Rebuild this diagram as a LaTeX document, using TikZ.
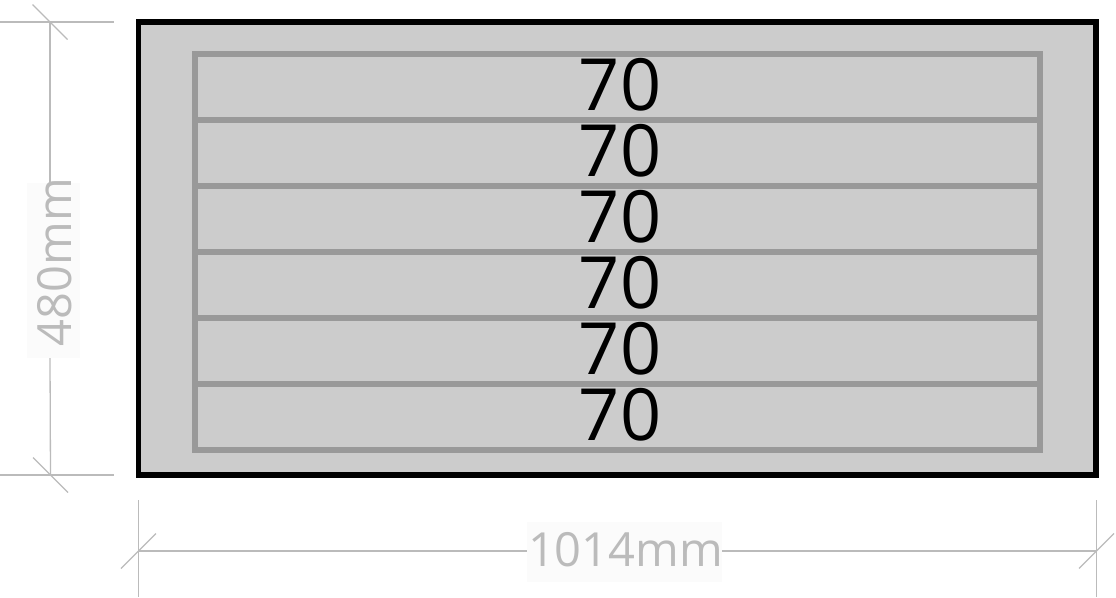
\documentclass[tikz,border=0pt]{standalone}
\usepackage{fontspec}
\usetikzlibrary{calc}
\newfontfamily\dimfont{Open Sans}
\definecolor{dimgray}{HTML}{BBBBBB}
\definecolor{stripfill}{HTML}{CCCCCC}
\definecolor{stripline}{HTML}{999999}
\definecolor{labelbg}{HTML}{FBFBFB}
\begin{document}
\begin{tikzpicture}[x=1pt,y=-1pt,
  dimline/.style={draw=dimgray,line width=1.3pt},
  outerbox/.style={draw=black,fill=stripfill,line width=5.5pt},
  stripbox/.style={draw=stripline,line width=6pt},
  striptext/.style={anchor=base,inner sep=0pt,font=\dimfont\fontsize{72}{72}\selectfont},
  dimtext/.style={anchor=base,inner sep=0pt,text=dimgray,font=\dimfont\fontsize{47}{47}\selectfont},
  labelback/.style={fill=labelbg,draw=none}]
\useasboundingbox (0,0) rectangle (1116,597);
% outer panel
\draw[outerbox] (138.5,22) rectangle (1096,475);
% strips
\foreach \i in {0,...,5}{
  \draw[stripbox] (195,{53.7+66*\i}) rectangle (1040,{119.7+66*\i});
  \node[striptext] (s\i) at (620,{110.7+66*\i}) {70};
}
% vertical dimension
\coordinate (vt) at (50,22);
\coordinate (vb) at (50.5,475);
\coordinate (vg1) at (50,183);
\coordinate (vg2) at (50,358);
\draw[dimline] (0,22) -- (114,22);
\draw[dimline] (0,475) -- (114,475);
\draw[dimline] (vt) -- (vg1);
\draw[dimline] (vg2) -- (vb);
\draw[dimline] ($(vt)+(-17.5,-17.5)$) -- ($(vt)+(17.5,17.5)$);
\draw[dimline] ($(vb)+(-17.5,-17.5)$) -- ($(vb)+(17.5,17.5)$);
\fill[labelback] (27,183) rectangle (80,358);
\node[dimtext,rotate=90] (hlabel) at (71,262) {480mm};
% horizontal dimension
\coordinate (hl) at (138.5,551);
\coordinate (hr) at (1096.5,551);
\coordinate (hg1) at (527,551);
\coordinate (hg2) at (722,551);
\draw[dimline] (138.5,500) -- (138.5,597);
\draw[dimline] (1096.5,500) -- (1096.5,597);
\draw[dimline] (hl) -- (hg1);
\draw[dimline] (hg2) -- (hr);
\draw[dimline] ($(hl)+(-17.5,17.5)$) -- ($(hl)+(17.5,-17.5)$);
\draw[dimline] ($(hr)+(-17.5,17.5)$) -- ($(hr)+(17.5,-17.5)$);
\fill[labelback] (527,522) rectangle (722,582);
\node[dimtext] (wlabel) at (625.5,566.7) {1014mm};
\end{tikzpicture}
\end{document}
